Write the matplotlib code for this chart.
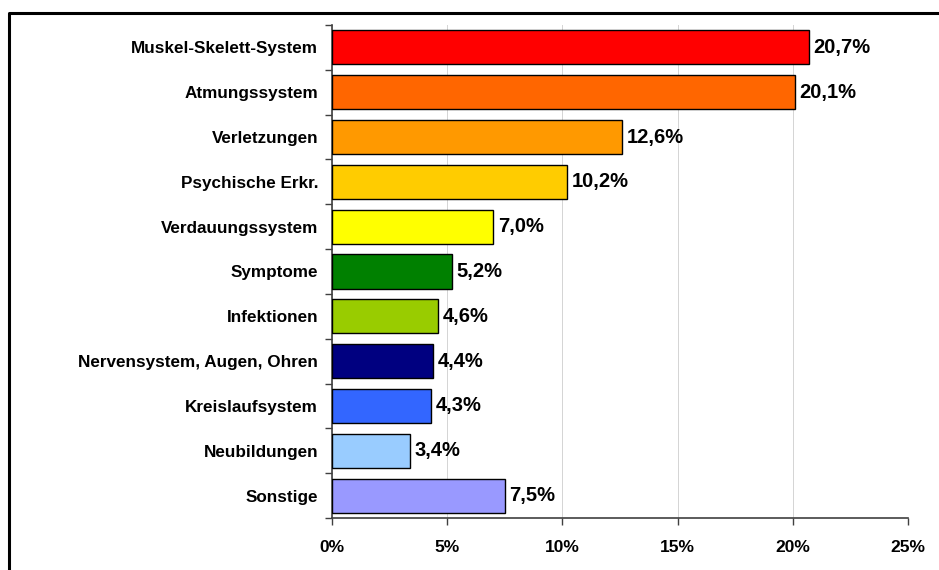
import numpy as np
import matplotlib.pyplot as plt
from matplotlib.lines import Line2D

categories = ['Muskel-Skelett-System', 'Atmungssystem', 'Verletzungen', 'Psychische Erkr.',
              'Verdauungssystem', 'Symptome', 'Infektionen', 'Nervensystem, Augen, Ohren',
              'Kreislaufsystem', 'Neubildungen', 'Sonstige']
values = [20.7, 20.1, 12.6, 10.2, 7.0, 5.2, 4.6, 4.4, 4.3, 3.4, 7.5]
colors = ['#FF0000', '#FF6600', '#FF9900', '#FFCC00', '#FFFF00', '#008000',
          '#99CC00', '#000080', '#3366FF', '#99CCFF', '#9999FF']
xticks = [0, 5, 10, 15, 20, 25]

plt.rcParams['font.family'] = ['Liberation Sans', 'DejaVu Sans']

W, H = 939, 570
fig = plt.figure(figsize=(W / 100, H / 100), dpi=100)
ax = fig.add_axes([332 / W, 1 - 518 / H, (908 - 332) / W, (518 - 25) / H])

y = np.arange(len(categories))
ax.barh(y, values, height=0.76, color=colors, edgecolor='black', linewidth=1, zorder=3)

for yi, v in zip(y, values):
    ax.text(v + 0.2, yi, f'{v:.1f}%'.replace('.', ','), va='center', ha='left',
            fontsize=14.5, fontweight='bold')

ax.set_xlim(0, 25)
ax.set_ylim(len(categories) - 0.5, -0.5)
ax.set_xticks(xticks)
ax.set_xticklabels([f'{t}%' for t in xticks], fontsize=12.5, fontweight='bold')
ax.set_yticks(y)
ax.set_yticklabels(categories, fontsize=12.3, fontweight='bold')
ax.set_yticks(np.arange(len(categories) + 1) - 0.5, minor=True)
ax.tick_params(axis='y', which='major', length=0, pad=10)
ax.tick_params(axis='y', which='minor', length=5, width=1, color='#404040')
ax.tick_params(axis='x', length=5, width=1, color='#404040', pad=11)

ax.grid(axis='x', color='#d4d4d4', linewidth=0.7, zorder=0)
ax.spines['top'].set_visible(False)
ax.spines['right'].set_visible(False)
for s in ['left', 'bottom']:
    ax.spines[s].set_color('#404040')
    ax.spines[s].set_linewidth(1.2)

# outer frame, cut off by the image at right and bottom
fig.add_artist(Line2D([9 / W, 9 / W, 1.0], [0.0, 1 - 12.5 / H, 1 - 12.5 / H],
                      transform=fig.transFigure, color='black', linewidth=2.2))

fig.savefig('out.png', dpi=100)
